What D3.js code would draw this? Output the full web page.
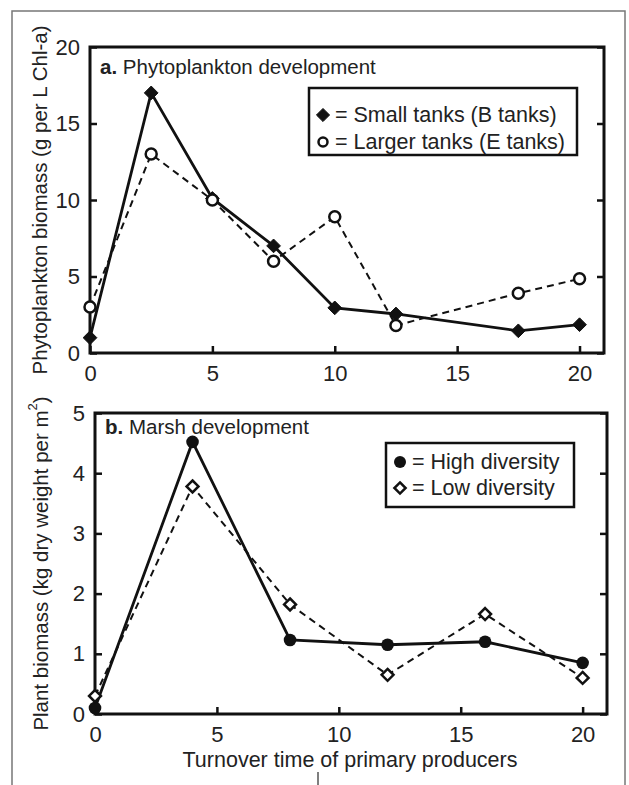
<!DOCTYPE html>
<html>
<head>
<meta charset="utf-8">
<script src="https://cdn.jsdelivr.net/npm/d3@7"></script>
<style>
  body { margin: 0; background: #fff; }
  svg text { font-family: "Liberation Sans", Arial, sans-serif; fill: #222; }
</style>
</head>
<body>
<svg id="chart" width="629" height="785"></svg>
<script>
// panel a: phytoplankton
const tankTimes = [0, 2.5, 5, 7.5, 10, 12.5, 17.5, 20];
const smallTanks = [1, 17, 10.1, 7, 2.95, 2.55, 1.45, 1.85];
const largerTanks = [3, 13, 10, 6, 8.9, 1.8, 3.9, 4.85];

// panel b: marsh
const marshTimes = [0, 4, 8, 12, 16, 20];
const highDiversity = [0.1, 4.52, 1.23, 1.15, 1.2, 0.85];
const lowDiversity = [0.3, 3.78, 1.82, 0.65, 1.66, 0.6];

const xTicks = [0, 5, 10, 15, 20];
const yTicksA = [0, 5, 10, 15, 20];
const yTicksB = [0, 1, 2, 3, 4, 5];

const svg = d3.select("#chart");

// outer frame
svg.append("rect")
  .attr("x", 12).attr("y", 11)
  .attr("width", 613).attr("height", 800)
  .attr("fill", "none")
  .attr("stroke", "#777")
  .attr("stroke-width", 1.5);
svg.append("line")
  .attr("x1", 318).attr("x2", 318)
  .attr("y1", 772).attr("y2", 785)
  .attr("stroke", "#555").attr("stroke-width", 1.5);

const diamond = d3.symbol().type(d3.symbolDiamond2);

function drawPanel(cfg) {
  const x = d3.scaleLinear().domain([0, 21]).range([cfg.left, cfg.right]);
  const y = d3.scaleLinear().domain(cfg.yDomain).range([cfg.bottom, cfg.top]);
  const g = svg.append("g");

  const axisStyle = sel => {
    sel.select(".domain").remove();
    sel.selectAll(".tick line").attr("stroke", "#111").attr("stroke-width", 2.5);
    sel.selectAll(".tick text")
      .attr("font-size", 22)
      .attr("font-family", "'Liberation Sans', Arial, sans-serif")
      .attr("fill", "#222");
  };

  g.append("g")
    .attr("transform", `translate(${cfg.left},0)`)
    .call(d3.axisLeft(y).tickValues(cfg.yTicks).tickFormat(d3.format("d")).tickSize(-7).tickPadding(10))
    .call(axisStyle);
  g.append("g")
    .attr("transform", `translate(${cfg.right},0)`)
    .call(d3.axisRight(y).tickValues(cfg.yTicks).tickSize(-7).tickFormat(""))
    .call(axisStyle);
  g.append("g")
    .attr("transform", `translate(0,${cfg.bottom})`)
    .call(d3.axisBottom(x).tickValues(xTicks).tickFormat(d3.format("d")).tickSize(-7).tickPadding(12))
    .call(axisStyle);

  // box
  g.append("rect")
    .attr("x", cfg.left).attr("y", cfg.top)
    .attr("width", cfg.right - cfg.left).attr("height", cfg.bottom - cfg.top)
    .attr("fill", "none").attr("stroke", "#111").attr("stroke-width", 3);

  // y label
  g.append("text")
    .attr("transform", `translate(${cfg.ylabelX},${(cfg.top + cfg.bottom) / 2}) rotate(-90)`)
    .attr("text-anchor", "middle")
    .attr("dominant-baseline", "central")
    .attr("font-size", 20.5)
    .html(cfg.ylabel);

  // title
  const t = g.append("text")
    .attr("x", cfg.left + 10).attr("y", cfg.top + cfg.titleDy)
    .attr("font-size", 20.5);
  t.append("tspan").attr("font-weight", "bold").text(cfg.tag);
  t.append("tspan").text(" " + cfg.title);

  const line = d3.line().x(d => x(d[0])).y(d => y(d[1]));

  cfg.series.forEach(s => {
    const pts = cfg.times.map((tt, i) => [tt, s.values[i]]);
    g.append("path")
      .datum(pts)
      .attr("d", line)
      .attr("fill", "none")
      .attr("stroke", "#111")
      .attr("stroke-width", s.dashed ? 2 : 2.8)
      .attr("stroke-dasharray", s.dashed ? "7,5" : null);
    drawMarkers(g, pts, s.marker, x, y);
  });

  // legend
  const lg = g.append("g");
  lg.append("rect")
    .attr("x", cfg.legend.x).attr("y", cfg.legend.y)
    .attr("width", cfg.legend.w).attr("height", cfg.legend.h)
    .attr("fill", "#fff").attr("stroke", "#111").attr("stroke-width", 2.5);
  cfg.series.forEach((s, i) => {
    const ly = cfg.legend.y + cfg.legend.rows[i];
    drawMarkers(lg, [[0, 0]], s.marker, () => cfg.legend.x + 14, () => ly, true);
    lg.append("text")
      .attr("x", cfg.legend.x + 26).attr("y", ly)
      .attr("dominant-baseline", "central")
      .attr("font-size", 21.5)
      .text("= " + s.name);
  });
}

function drawMarkers(g, pts, marker, x, y, legend) {
  const sel = g.append("g").selectAll("g").data(pts).join("g")
    .attr("transform", d => `translate(${x(d[0])},${y(d[1])})`);
  if (marker === "filledDiamond") {
    sel.append("path").attr("d", diamond.size(legend ? 110 : 120)())
      .attr("fill", "#111").attr("stroke", "#111").attr("stroke-width", 1);
  } else if (marker === "openCircle") {
    sel.append("circle").attr("r", legend ? 4.5 : 5.5)
      .attr("fill", "#fff").attr("stroke", "#111").attr("stroke-width", 2.5);
  } else if (marker === "filledCircle") {
    sel.append("circle").attr("r", legend ? 6 : 6.3).attr("fill", "#111");
  } else if (marker === "openDiamond") {
    sel.append("path").attr("d", diamond.size(legend ? 80 : 90)())
      .attr("fill", "#fff").attr("stroke", "#111").attr("stroke-width", 2.5);
  }
}

drawPanel({
  left: 90, right: 604, top: 47, bottom: 353,
  yDomain: [0, 20], yTicks: yTicksA, times: tankTimes,
  ylabelX: 39, titleDy: 27,
  ylabel: "Phytoplankton biomass (g per L Chl-a)",
  tag: "a.", title: "Phytoplankton development",
  legend: { x: 309, y: 88, w: 268, h: 67, rows: [27, 54] },
  series: [
    { name: "Small tanks (B tanks)", values: smallTanks, marker: "filledDiamond", dashed: false },
    { name: "Larger tanks (E tanks)", values: largerTanks, marker: "openCircle", dashed: true }
  ]
});

drawPanel({
  left: 95, right: 607, top: 413, bottom: 714,
  yDomain: [0, 5], yTicks: yTicksB, times: marshTimes,
  ylabelX: 40, titleDy: 21,
  ylabel: "Plant biomass (kg dry weight per m<tspan baseline-shift='super' font-size='13'>2</tspan>)",
  tag: "b.", title: "Marsh development",
  legend: { x: 386, y: 443, w: 188, h: 64, rows: [19, 45] },
  series: [
    { name: "High diversity", values: highDiversity, marker: "filledCircle", dashed: false },
    { name: "Low diversity", values: lowDiversity, marker: "openDiamond", dashed: true }
  ]
});

// x label
svg.append("text")
  .attr("x", 350).attr("y", 767)
  .attr("text-anchor", "middle")
  .attr("font-size", 21.5)
  .text("Turnover time of primary producers");
</script>
</body>
</html>
